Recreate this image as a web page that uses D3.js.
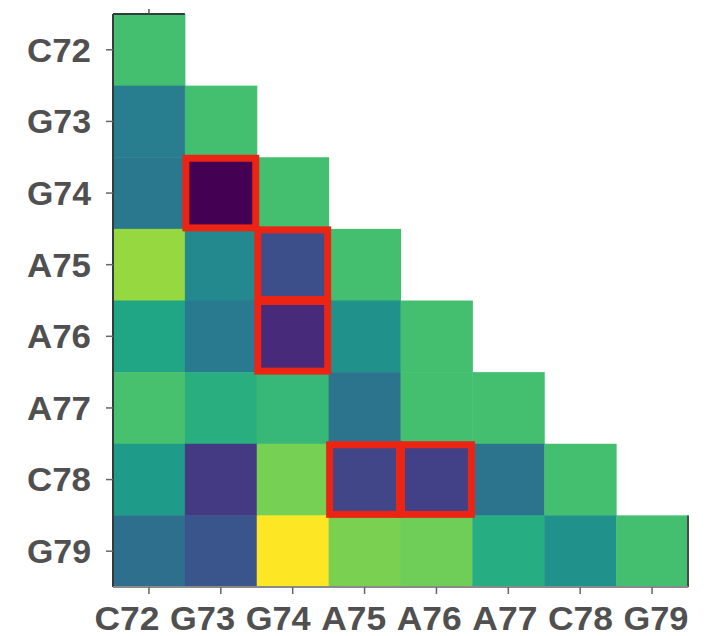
<!DOCTYPE html>
<html>
<head>
<meta charset="utf-8">
<script src="https://cdn.jsdelivr.net/npm/d3@7"></script>
<style>
  html, body { margin: 0; padding: 0; background: #fff; }
  svg { display: block; }
</style>
</head>
<body>
<svg id="chart" width="706" height="636"></svg>
<script>
// ---- data ----
const labels = ["C72", "G73", "G74", "A75", "A76", "A77", "C78", "G79"];
// lower-triangular values (row i has i+1 entries), colour on viridis scale 0..1
const rowC72 = [0.70];
const rowG73 = [0.42, 0.70];
const rowG74 = [0.40, 0.00, 0.70];
const rowA75 = [0.84, 0.47, 0.24, 0.70];
const rowA76 = [0.59, 0.41, 0.12, 0.50, 0.70];
const rowA77 = [0.71, 0.63, 0.67, 0.38, 0.70, 0.70];
const rowC78 = [0.55, 0.17, 0.79, 0.21, 0.19, 0.38, 0.70];
const rowG79 = [0.36, 0.26, 1.00, 0.80, 0.78, 0.62, 0.50, 0.70];
const values = [rowC72, rowG73, rowG74, rowA75, rowA76, rowA77, rowC78, rowG79];
// highlighted cells: [row, column]
const highlights = [["G74", "G73"], ["A75", "G74"], ["A76", "G74"], ["C78", "A75"], ["C78", "A76"]];

// ---- drawing ----
const svg = d3.select("#chart");
const x = d3.scaleBand().domain(labels).range([113, 688]);
const y = d3.scaleBand().domain(labels).range([14, 587]);
const xLabel = d3.scalePoint().domain(labels).range([127, 656]);
const color = d3.scaleSequential(d3.interpolateViridis).domain([0, 1]);

const cells = [];
values.forEach((row, i) => row.forEach((v, j) => cells.push({ r: labels[i], c: labels[j], v })));

svg.append("g").selectAll("rect").data(cells).join("rect")
  .attr("x", d => x(d.c))
  .attr("y", d => y(d.r))
  .attr("width", x.bandwidth() + 0.5)
  .attr("height", y.bandwidth() + 0.5)
  .attr("fill", d => color(d.v));

// spines
const spine = svg.append("g").attr("fill", "none");
spine.append("line").attr("x1", 113).attr("x2", 113).attr("y1", y.range()[0]).attr("y2", y.range()[1])
  .attr("stroke", "#2f3d3d").attr("stroke-width", 2);
spine.append("line").attr("x1", x("C72")).attr("x2", x("C72") + x.bandwidth()).attr("y1", 14).attr("y2", 14)
  .attr("stroke", "#2f3d3d").attr("stroke-width", 2);
spine.append("line").attr("x1", 688).attr("x2", 688).attr("y1", y("G79")).attr("y2", 587)
  .attr("stroke", "#4a4a4a").attr("stroke-width", 2);
spine.append("line").attr("x1", 113).attr("x2", 688).attr("y1", 587).attr("y2", 587)
  .attr("stroke", "#8a8a8a").attr("stroke-width", 2);
// top tick
spine.append("line").attr("x1", x("C72") + x.bandwidth() / 2).attr("x2", x("C72") + x.bandwidth() / 2)
  .attr("y1", 14).attr("y2", 9).attr("stroke", "#555").attr("stroke-width", 1.5);

// highlight boxes
svg.append("g").selectAll("rect").data(highlights).join("rect")
  .attr("x", d => x(d[1]) + 1)
  .attr("y", d => y(d[0]) + 1)
  .attr("width", x.bandwidth() - 2)
  .attr("height", y.bandwidth() - 2)
  .attr("fill", "none")
  .attr("stroke", "#ec2414")
  .attr("stroke-width", 7);

// y axis
const yAxis = svg.append("g").attr("transform", "translate(113,0)")
  .call(d3.axisLeft(y).tickSize(7).tickPadding(15));
yAxis.select(".domain").remove();
yAxis.selectAll(".tick line").attr("stroke", "#666").attr("stroke-width", 1.5);
yAxis.selectAll(".tick text")
  .attr("font-family", "'Liberation Sans', Arial, sans-serif")
  .attr("font-weight", "bold")
  .attr("font-size", 33)
  .attr("fill", "#505050")
  .attr("textLength", 64)
  .attr("lengthAdjust", "spacingAndGlyphs")
  .attr("dy", "0.36em");

// x axis ticks
const xAxis = svg.append("g").attr("transform", "translate(0,587)")
  .call(d3.axisBottom(x).tickSize(7).tickFormat(""));
xAxis.select(".domain").remove();
xAxis.selectAll(".tick line").attr("stroke", "#666").attr("stroke-width", 1.5);

// x labels
svg.append("g").selectAll("text").data(labels).join("text")
  .attr("x", d => xLabel(d))
  .attr("y", 630)
  .attr("text-anchor", "middle")
  .attr("font-family", "'Liberation Sans', Arial, sans-serif")
  .attr("font-weight", "bold")
  .attr("font-size", 33)
  .attr("fill", "#505050")
  .attr("textLength", 65)
  .attr("lengthAdjust", "spacingAndGlyphs")
  .text(d => d);
</script>
</body>
</html>
